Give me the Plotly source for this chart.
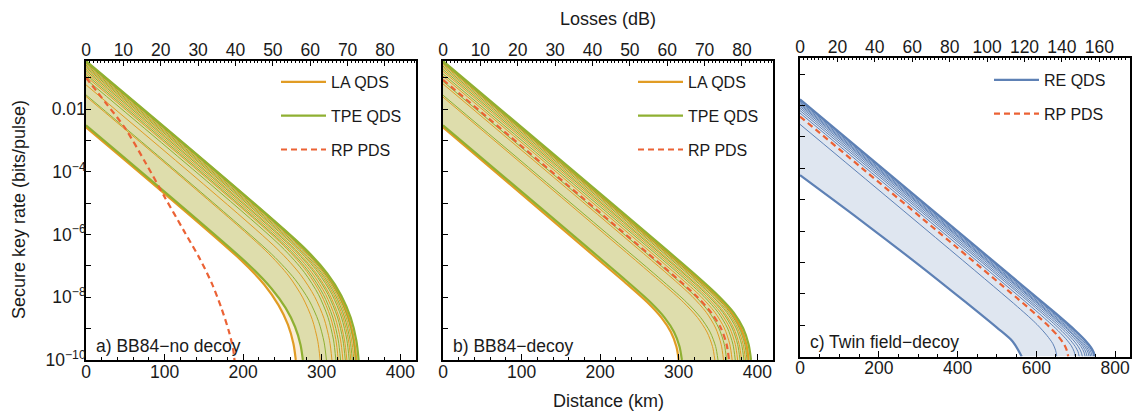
import plotly.graph_objects as go

# ---------------- data (distance in km, log10 of key rate) -------------
# Panel a) BB84 - no decoy
LA_A_KM = [[0, 197, 227, 245, 257, 264, 267], [0, 228, 258, 276, 288, 295, 298],
           [0, 243, 273, 291, 303, 310, 313], [0, 251, 281, 299, 311, 318, 321],
           [0, 257, 287, 305, 317, 324, 327], [0, 262, 292, 310, 322, 329, 332],
           [0, 267, 297, 315, 327, 334, 337], [0, 271, 301, 319, 331, 338, 341],
           [0, 274, 304, 322, 334, 341, 344]]
LA_A_LOG = [[-2.58, -6.81, -7.60, -8.25, -8.87, -9.48, -10], [-1.60, -6.50, -7.32, -8.02, -8.71, -9.40, -10],
            [-1.23, -6.45, -7.28, -7.98, -8.68, -9.38, -10], [-0.96, -6.34, -7.18, -7.90, -8.62, -9.35, -10],
            [-0.84, -6.36, -7.20, -7.91, -8.63, -9.36, -10], [-0.73, -6.36, -7.20, -7.91, -8.63, -9.36, -10],
            [-0.64, -6.36, -7.20, -7.91, -8.63, -9.36, -10], [-0.56, -6.36, -7.20, -7.91, -8.63, -9.36, -10],
            [-0.50, -6.36, -7.20, -7.91, -8.63, -9.36, -10]]
TPE_A_KM = [[0, 206, 236, 254, 266, 273, 276], [0, 236, 266, 284, 296, 303, 306],
            [0, 248, 278, 296, 308, 315, 318], [0, 254, 284, 302, 314, 321, 324],
            [0, 260, 290, 308, 320, 327, 330], [0, 265, 295, 313, 325, 332, 335],
            [0, 269, 299, 317, 329, 336, 339], [0, 273, 303, 321, 333, 340, 343],
            [0, 277, 307, 325, 337, 344, 347]]
TPE_A_LOG = [[-2.52, -6.94, -7.72, -8.34, -8.94, -9.51, -10], [-1.55, -6.62, -7.43, -8.10, -8.77, -9.43, -10],
             [-1.05, -6.37, -7.21, -7.92, -8.64, -9.36, -10], [-0.90, -6.36, -7.20, -7.91, -8.63, -9.36, -10],
             [-0.78, -6.36, -7.20, -7.91, -8.63, -9.36, -10], [-0.68, -6.36, -7.20, -7.91, -8.63, -9.36, -10],
             [-0.60, -6.36, -7.20, -7.91, -8.63, -9.36, -10], [-0.53, -6.37, -7.21, -7.92, -8.64, -9.36, -10],
             [-0.47, -6.41, -7.24, -7.95, -8.66, -9.37, -10]]
RP_A_KM = [0, 25, 50, 75, 100, 125, 145, 160, 172, 182, 187, 189]
RP_A_LOG = [-1.00, -1.80, -2.62, -3.68, -4.80, -5.90, -6.78, -7.55, -8.32, -9.10, -9.62, -10]

# Panel b) BB84 - decoy
LA_B_KM = [[0, 230, 260, 278, 290, 297, 300], [0, 276, 306, 324, 336, 343, 346],
           [0, 287, 317, 335, 347, 354, 357], [0, 298, 328, 346, 358, 365, 368],
           [0, 305, 335, 353, 365, 372, 375], [0, 310, 340, 358, 370, 377, 380],
           [0, 315, 345, 363, 375, 382, 385], [0, 319, 349, 367, 379, 386, 389]]
LA_B_LOG = [[-2.58, -7.49, -8.16, -8.65, -9.11, -9.57, -10], [-1.62, -7.49, -8.16, -8.65, -9.11, -9.57, -10],
            [-1.20, -7.29, -7.97, -8.48, -8.98, -9.50, -10], [-0.95, -7.29, -7.97, -8.48, -8.98, -9.50, -10],
            [-0.80, -7.29, -7.97, -8.48, -8.98, -9.50, -10], [-0.68, -7.29, -7.97, -8.48, -8.98, -9.50, -10],
            [-0.58, -7.29, -7.97, -8.48, -8.98, -9.50, -10], [-0.50, -7.29, -7.97, -8.48, -8.98, -9.50, -10]]
TPE_B_KM = [[0, 234, 264, 282, 294, 301, 304], [0, 280, 310, 328, 340, 347, 350],
            [0, 291, 321, 339, 351, 358, 361], [0, 302, 332, 350, 362, 369, 372],
            [0, 308, 338, 356, 368, 375, 378], [0, 313, 343, 361, 373, 380, 383],
            [0, 317, 347, 365, 377, 384, 387], [0, 322, 352, 370, 382, 389, 392]]
TPE_B_LOG = [[-2.52, -7.49, -8.16, -8.65, -9.11, -9.57, -10], [-1.56, -7.49, -8.16, -8.65, -9.11, -9.57, -10],
             [-1.12, -7.29, -7.97, -8.48, -8.98, -9.50, -10], [-0.88, -7.29, -7.97, -8.48, -8.98, -9.50, -10],
             [-0.74, -7.29, -7.97, -8.48, -8.98, -9.50, -10], [-0.63, -7.29, -7.97, -8.48, -8.98, -9.50, -10],
             [-0.54, -7.29, -7.97, -8.48, -8.98, -9.50, -10], [-0.47, -7.30, -7.99, -8.49, -8.99, -9.51, -10]]
RP_B_KM = [0, 294, 324, 342, 354, 361, 364]
RP_B_LOG = [-1.07, -7.32, -8.00, -8.51, -9.00, -9.51, -10]

# Panel c) Twin field - decoy
RE_C_KM = [[0, 649, 699, 724, 739, 746, 749], [0, 646, 696, 721, 736, 743, 746],
           [0, 642, 692, 717, 732, 739, 742], [0, 638, 688, 713, 728, 735, 738],
           [0, 634, 684, 709, 724, 731, 734], [0, 629, 679, 704, 719, 726, 729],
           [0, 624, 674, 699, 714, 721, 724], [0, 617, 667, 692, 707, 714, 717],
           [0, 609, 659, 684, 699, 706, 709], [0, 599, 649, 674, 689, 696, 699],
           [0, 552, 602, 627, 642, 649, 652], [0, 150, 300, 420, 500, 540, 563]]
RE_C_LOG = [[-1.80, -8.62, -9.17, -9.48, -9.71, -9.87, -10], [-1.83, -8.62, -9.17, -9.48, -9.71, -9.87, -10],
            [-1.86, -8.61, -9.16, -9.48, -9.70, -9.86, -10], [-1.90, -8.61, -9.16, -9.48, -9.70, -9.86, -10],
            [-1.94, -8.61, -9.16, -9.48, -9.70, -9.86, -10], [-1.98, -8.59, -9.14, -9.46, -9.69, -9.86, -10],
            [-2.03, -8.59, -9.14, -9.46, -9.69, -9.86, -10], [-2.09, -8.58, -9.13, -9.45, -9.69, -9.86, -10],
            [-2.16, -8.56, -9.12, -9.44, -9.68, -9.85, -10], [-2.24, -8.54, -9.10, -9.42, -9.66, -9.84, -10],
            [-2.60, -8.41, -8.98, -9.33, -9.59, -9.80, -10], [-4.22, -5.62, -7.06, -8.26, -9.08, -9.52, -10]]
RP_C_KM = [0, 581, 631, 656, 671, 678, 681]
RP_C_LOG = [-2.35, -8.46, -9.03, -9.36, -9.62, -9.82, -10]

# axis ticks / labels
DIST_TICKS_AB = [0, 100, 200, 300, 400]
DIST_TICKS_C = [0, 200, 400, 600, 800]
Y_LABEL_EXP = [-10, -8, -6, -4, -2]
Y_LABEL_TXT = ["10<sup>\u221210</sup>", "10<sup>\u22128</sup>", "10<sup>\u22126</sup>",
               "10<sup>\u22124</sup>", "0.01"]
Y_MINOR_EXP = [-9, -7, -5, -3, -1]
PANEL_LABELS = ["a) BB84\u2212no decoy", "b) BB84\u2212decoy", "c) Twin field\u2212decoy"]

# ---------------- styling ----------------
ORANGE, GREEN, BLUE, RED = "#E19C24", "#8FB032", "#5E81B5", "#EB6235"
FONT = "Liberation Sans, Arial, Helvetica, sans-serif"
TXT = "#1a1a1a"
THICK, THIN = 2.2, 1.0
W, H = 1134, 413
TICK_SIZE, TITLE_SIZE, LEG_SIZE, PANEL_SIZE = 17.5, 18, 16, 17.5

fig = go.Figure()


def ylin(logs):
    return [10 ** v for v in logs]


def curve(km, logs, color, width, xa, ya, dash=None, name=None, legend=None):
    fig.add_trace(go.Scatter(
        x=km, y=ylin(logs), mode="lines", xaxis=xa, yaxis=ya,
        line=dict(color=color, width=width, dash=dash, shape="spline", smoothing=0.8),
        name=name, showlegend=name is not None, legend=legend, hoverinfo="skip"))


def band(km_lo, log_lo, km_hi, log_hi, fillcolor, xa, ya):
    fig.add_trace(go.Scatter(x=km_lo, y=ylin(log_lo), mode="lines", xaxis=xa, yaxis=ya,
                             line=dict(width=0, shape="spline", smoothing=0.8),
                             showlegend=False, hoverinfo="skip"))
    fig.add_trace(go.Scatter(x=km_hi, y=ylin(log_hi), mode="lines", xaxis=xa, yaxis=ya,
                             line=dict(width=0, shape="spline", smoothing=0.8),
                             fill="tonexty", fillcolor=fillcolor,
                             showlegend=False, hoverinfo="skip"))


LA_FILL = "rgba(225,156,36,0.18)"
TPE_FILL = "rgba(143,176,50,0.26)"
RE_FILL = "rgba(94,129,181,0.20)"
DASH = "6px,4px"

# panel a
band(LA_A_KM[0], LA_A_LOG[0], LA_A_KM[-1], LA_A_LOG[-1], LA_FILL, "x", "y")
band(TPE_A_KM[0], TPE_A_LOG[0], TPE_A_KM[-1], TPE_A_LOG[-1], TPE_FILL, "x", "y")
for i, (k, l) in enumerate(zip(LA_A_KM, LA_A_LOG)):
    edge = i in (0, len(LA_A_KM) - 1)
    curve(k, l, ORANGE, THICK if edge else THIN, "x", "y",
          name="LA QDS" if i == 0 else None, legend="legend")
for i, (k, l) in enumerate(zip(TPE_A_KM, TPE_A_LOG)):
    edge = i in (0, len(TPE_A_KM) - 1)
    curve(k, l, GREEN, THICK if edge else THIN, "x", "y",
          name="TPE QDS" if i == 0 else None, legend="legend")
curve(RP_A_KM, RP_A_LOG, RED, THICK, "x", "y", dash=DASH, name="RP PDS", legend="legend")

# panel b
band(LA_B_KM[0], LA_B_LOG[0], LA_B_KM[-1], LA_B_LOG[-1], LA_FILL, "x2", "y2")
band(TPE_B_KM[0], TPE_B_LOG[0], TPE_B_KM[-1], TPE_B_LOG[-1], TPE_FILL, "x2", "y2")
for i, (k, l) in enumerate(zip(LA_B_KM, LA_B_LOG)):
    edge = i in (0, len(LA_B_KM) - 1)
    curve(k, l, ORANGE, THICK if edge else THIN, "x2", "y2",
          name="LA QDS" if i == 0 else None, legend="legend2")
for i, (k, l) in enumerate(zip(TPE_B_KM, TPE_B_LOG)):
    edge = i in (0, len(TPE_B_KM) - 1)
    curve(k, l, GREEN, THICK if edge else THIN, "x2", "y2",
          name="TPE QDS" if i == 0 else None, legend="legend2")
curve(RP_B_KM, RP_B_LOG, RED, THICK, "x2", "y2", dash=DASH, name="RP PDS", legend="legend2")

# panel c
band(RE_C_KM[-1], RE_C_LOG[-1], RE_C_KM[0], RE_C_LOG[0], RE_FILL, "x3", "y3")
for i, (k, l) in enumerate(zip(RE_C_KM, RE_C_LOG)):
    edge = i in (0, len(RE_C_KM) - 1)
    curve(k, l, BLUE, THICK if edge else THIN, "x3", "y3",
          name="RE QDS" if i == len(RE_C_KM) - 1 else None, legend="legend3")
curve(RP_C_KM, RP_C_LOG, RED, THICK, "x3", "y3", dash=DASH, name="RP PDS", legend="legend3")

# empty traces so that the top (losses) axes are drawn
for xa, ya in (("x4", "y"), ("x5", "y2"), ("x6", "y3")):
    fig.add_trace(go.Scatter(x=[None], y=[None], xaxis=xa, yaxis=ya, mode="lines",
                             showlegend=False, hoverinfo="skip"))


# ---------------- layout ----------------
def px_x(p):
    return p / W


def px_y(p):
    return 1 - p / H


tickfont = dict(family=FONT, size=TICK_SIZE, color=TXT)
dom_a = [px_x(86), px_x(416)]
dom_b = [px_x(443), px_x(773)]
dom_c = [px_x(800), px_x(1130)]
ydom_ab = [px_y(360), px_y(61)]
ydom_c = [px_y(356.5), px_y(57.5)]


def bottom_axis(dom, rng, ticks, minor, anchor):
    return dict(domain=dom, range=rng, anchor=anchor, tickmode="array", tickvals=ticks,
                ticktext=[str(t) for t in ticks], ticks="inside", ticklen=6, tickwidth=1.2,
                tickcolor="black", minor=dict(dtick=minor, tick0=0, ticks="inside", ticklen=3,
                                              tickwidth=1, tickcolor="black"),
                showline=True, linecolor="black", linewidth=1.5, mirror=False,
                showgrid=False, zeroline=False, tickfont=tickfont, automargin=False,
                ticklabelstandoff=-5)


def top_axis(over, anchor, rng, dtick, minor):
    return dict(overlaying=over, anchor=anchor, side="top", range=rng, tickmode="linear",
                tick0=0, dtick=dtick, ticks="inside", ticklen=5, tickwidth=1.2, tickcolor="black",
                minor=dict(dtick=minor, tick0=0, ticks="inside", ticklen=2.5, tickwidth=0.8,
                           tickcolor="black"),
                showline=True, linecolor="black", linewidth=1.5, showgrid=False,
                zeroline=False, tickfont=tickfont, automargin=False, ticklabelstandoff=-4)


def left_axis(dom, anchor, labels):
    return dict(domain=dom, anchor=anchor, type="log", range=[-10, -0.47], tickmode="array",
                tickvals=[10 ** k for k in Y_LABEL_EXP], ticktext=Y_LABEL_TXT,
                showticklabels=labels, ticks="inside", ticklen=5, tickwidth=1.2,
                tickcolor="black",
                minor=dict(tickmode="array", tickvals=[10 ** k for k in Y_MINOR_EXP],
                           ticks="inside", ticklen=5, tickwidth=1.2, tickcolor="black"),
                showline=True, linecolor="black", linewidth=1.5,
                mirror=True, showgrid=False, zeroline=False, tickfont=tickfont,
                automargin=False, ticklabelstandoff=-5)


legend_common = dict(font=dict(family=FONT, size=LEG_SIZE, color=TXT), bgcolor="rgba(0,0,0,0)",
                     borderwidth=0, tracegroupgap=10, xanchor="left", yanchor="top",
                     traceorder="grouped", itemwidth=45)

fig.update_layout(
    width=W, height=H, margin=dict(l=0, r=0, t=0, b=0),
    paper_bgcolor="white", plot_bgcolor="rgba(0,0,0,0)",
    font=dict(family=FONT, size=16, color=TXT),
    xaxis=bottom_axis(dom_a, [0, 420], DIST_TICKS_AB, 20, "y"),
    xaxis2=bottom_axis(dom_b, [0, 420], DIST_TICKS_AB, 20, "y2"),
    xaxis3=bottom_axis(dom_c, [0, 838], DIST_TICKS_C, 50, "y3"),
    xaxis4=top_axis("x", "y", [0, 88.3], 10, 1),
    xaxis5=top_axis("x2", "y2", [0, 88.3], 10, 1),
    xaxis6=top_axis("x3", "y3", [0, 176.4], 20, 2),
    yaxis=left_axis(ydom_ab, "x", True),
    yaxis2=left_axis(ydom_ab, "x2", False),
    yaxis3=left_axis(ydom_c, "x3", False),
    legend=dict(x=px_x(276), y=px_y(65), **legend_common),
    legend2=dict(x=px_x(633), y=px_y(65), **legend_common),
    legend3=dict(x=px_x(989), y=px_y(63), **legend_common),
    showlegend=True,
)

# group legend entries so that spacing is applied between them
for tr in fig.data:
    if tr.showlegend:
        tr.legendgroup = (tr.legend or "legend") + tr.name

annos = [
    dict(text=PANEL_LABELS[0], x=px_x(94), y=px_y(346), xanchor="left", yanchor="middle",
         size=PANEL_SIZE),
    dict(text=PANEL_LABELS[1], x=px_x(451), y=px_y(346), xanchor="left", yanchor="middle",
         size=PANEL_SIZE),
    dict(text=PANEL_LABELS[2], x=px_x(808), y=px_y(342), xanchor="left", yanchor="middle",
         size=PANEL_SIZE),
    dict(text="Losses (dB)", x=px_x(608), y=px_y(19), xanchor="center", yanchor="middle",
         size=TITLE_SIZE),
    dict(text="Distance (km)", x=px_x(608), y=px_y(401), xanchor="center", yanchor="middle",
         size=TITLE_SIZE),
    dict(text="Secure key rate (bits/pulse)", x=px_x(19), y=px_y(210), xanchor="center",
         yanchor="middle", textangle=-90, size=TITLE_SIZE),
]
for a in annos:
    size = a.pop("size")
    fig.add_annotation(xref="paper", yref="paper", showarrow=False,
                       font=dict(family=FONT, size=size, color=TXT), **a)

fig.write_html("out.html", config={"displayModeBar": False},
               post_script="document.body.style.margin='0';document.body.style.padding='0';")
